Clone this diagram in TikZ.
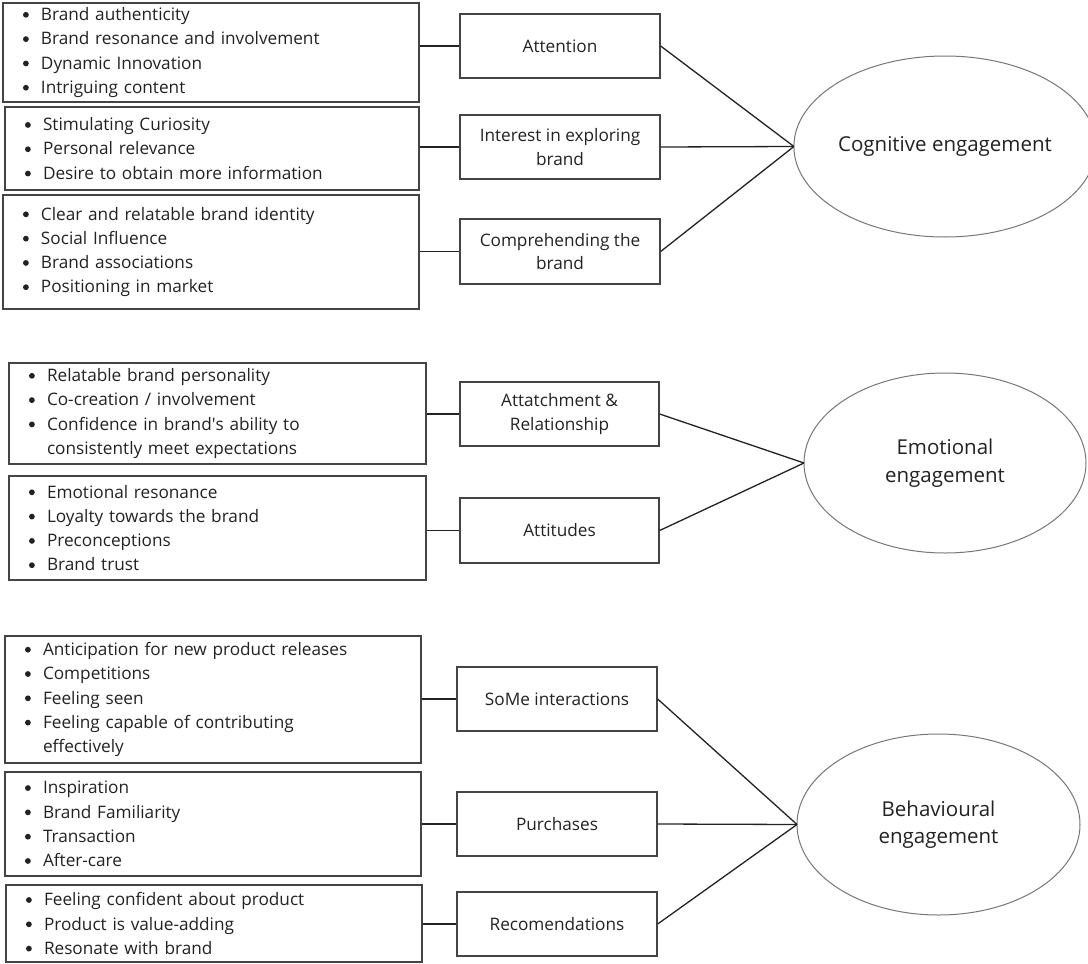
\documentclass[tikz,border=0pt]{standalone}
\usepackage{fontspec}
\setmainfont{Open Sans}
\usetikzlibrary{shapes.geometric}

\definecolor{ink}{HTML}{222222}
\definecolor{boxline}{HTML}{444444}
\definecolor{ellline}{HTML}{767676}

\newcommand{\listfont}{\fontsize{17.2}{24.3}\selectfont}
\newcommand{\factorfont}{\fontsize{17.2}{23.5}\selectfont}
\newcommand{\engfont}{\fontsize{20.5}{27.5}\selectfont}
\newcommand{\bitem}{\makebox[18pt][l]{\tikz[baseline=0pt]\fill[ink] (4pt,5.7pt) circle (2.9pt);}}

\tikzset{
    listbox/.style={draw=boxline, line width=1.3pt, inner xsep=20pt, inner ysep=0pt,
        align=left, text=ink, font=\listfont},
    factor/.style={draw=boxline, line width=1.3pt, minimum width=200pt, minimum height=64pt,
        inner sep=2pt, align=center, text=ink, font=\factorfont},
    engage/.style={ellipse, draw=ellline, line width=1pt, minimum width=282pt,
        minimum height=181pt, inner sep=0pt, outer sep=0pt, align=center, text=ink, font=\engfont},
    link/.style={draw=ink, line width=1.3pt},
}

\begin{document}
\begin{tikzpicture}[x=1pt, y=-1pt]

\useasboundingbox (0,0) rectangle (1088,964);

% cognitive
\node[listbox, text width=376pt, minimum height=99pt] (attlist) at (211,52.5) {
    \bitem Brand authenticity\\
    \bitem Brand resonance and involvement\\
    \bitem Dynamic Innovation\\
    \bitem Intriguing content};
\node[listbox, text width=374pt, minimum height=83pt] (intlist) at (212,148.5) {
    \bitem Stimulating Curiosity\\
    \bitem Personal relevance\\
    \bitem Desire to obtain more information};
\node[listbox, text width=376pt, minimum height=114pt] (comlist) at (211,252) {
    \bitem Clear and relatable brand identity\\
    \bitem Social Influence\\
    \bitem Brand associations\\
    \bitem Positioning in market};

\node[factor] (att) at (560,46) {Attention};
\node[factor] (int) at (560,147) {Interest in exploring\\brand};
\node[factor, minimum height=65pt] (com) at (560,251.5) {Comprehending the\\brand};

\node[engage] (cog) at (945,146.5) {Cognitive engagement};

% emotional
\node[listbox, text width=377pt, minimum height=101pt] (rellist) at (217.5,413.5) {
    \bitem Relatable brand personality\\
    \bitem Co-creation / involvement\\
    \bitem Confidence in brand\textquotesingle s ability to\\
    \hspace*{18pt}consistently meet expectations};
\node[listbox, text width=377pt, minimum height=104pt] (atdlist) at (217.5,528) {
    \bitem Emotional resonance\\
    \bitem Loyalty towards the brand\\
    \bitem Preconceptions\\
    \bitem Brand trust};

\node[factor, minimum width=199pt] (rel) at (559.5,414) {Attatchment \&\\Relationship};
\node[factor, minimum width=199pt, minimum height=65pt] (atd) at (559.5,530.5) {Attitudes};

\node[engage, minimum height=180pt] (emo) at (945,463) {Emotional\\engagement};

% behavioural
\node[listbox, text width=376pt, minimum height=127pt] (somelist) at (213,699.5) {
    \bitem Anticipation for new product releases\\
    \bitem Competitions\\
    \bitem Feeling seen\\
    \bitem Feeling capable of contributing\\
    \hspace*{18pt}effectively};
\node[listbox, text width=376pt, minimum height=104pt] (purlist) at (213,824) {
    \bitem Inspiration\\
    \bitem Brand Familiarity\\
    \bitem Transaction\\
    \bitem After-care};
\node[listbox, text width=376pt, minimum height=77pt] (reclist) at (214,923.5) {
    \bitem Feeling confident about product\\
    \bitem Product is value-adding\\
    \bitem Resonate with brand};

\node[factor] (some) at (557,699) {SoMe interactions};
\node[factor] (pur) at (557,824) {Purchases};
\node[factor] (rec) at (557,924) {Recomendations};

\node[engage, minimum width=283pt] (beh) at (938.5,824.5) {Behavioural\\engagement};

% connectors
\foreach \l/\f/\e in {attlist/att/cog, intlist/int/cog, comlist/com/cog,
                      rellist/rel/emo, atdlist/atd/emo,
                      somelist/some/beh, purlist/pur/beh, reclist/rec/beh}{
    \draw[link] (\l.east |- \f.west) -- (\f.west);
    \draw[link] (\f.east) -- (\e.west);
}

\end{tikzpicture}
\end{document}
